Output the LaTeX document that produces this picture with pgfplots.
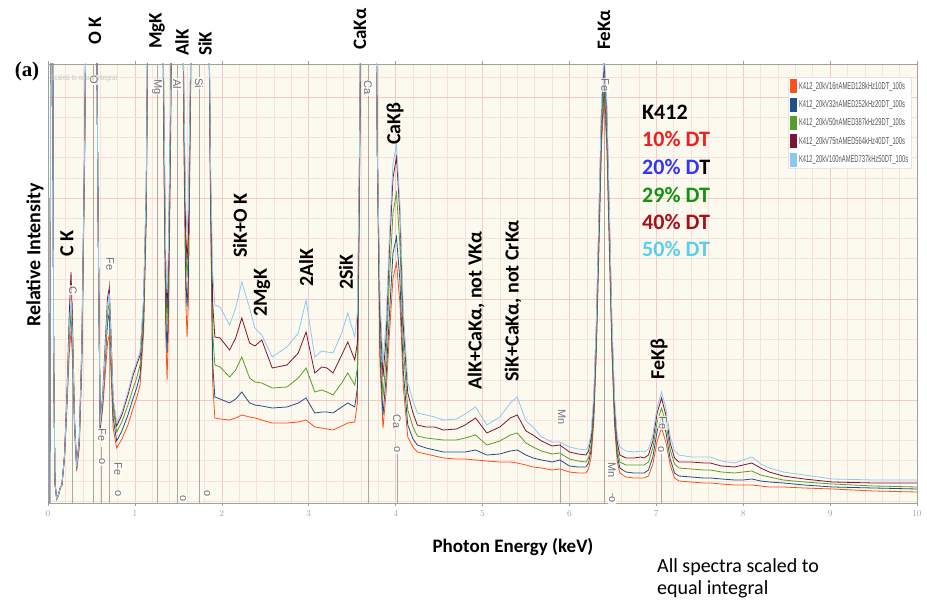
\documentclass[border=0pt]{standalone}
\usepackage{fontspec}
\setmainfont{Carlito}
\newfontfamily\serifa{Liberation Serif}
\newfontfamily\lsans{Liberation Sans}
\usepackage{graphicx}
\usepackage{pgfplots}
\usepackage{pgfplotstable}
\pgfplotsset{compat=1.18}

\definecolor{cOr}{HTML}{FF4F1A}
\definecolor{cBl}{HTML}{1F4E8A}
\definecolor{cGr}{HTML}{5A9C2A}
\definecolor{cDr}{HTML}{7A1535}
\definecolor{cLb}{HTML}{8CC8F2}
\definecolor{bgcream}{HTML}{FCFAEE}
\definecolor{gridpink}{HTML}{F8E0DC}
\definecolor{gridpinkmaj}{HTML}{F3CACA}
\definecolor{axgray}{HTML}{A0A0A0}
\definecolor{mkgray}{HTML}{A8A8A8}
\definecolor{mktext}{HTML}{707070}
\definecolor{legbd}{HTML}{E4E4E4}
\definecolor{legtext}{HTML}{555555}
\definecolor{tRed}{HTML}{F01E1E}
\definecolor{tBlue}{HTML}{3535F5}
\definecolor{tGreen}{HTML}{129112}
\definecolor{tDred}{HTML}{A80F18}
\definecolor{tCyan}{HTML}{58CFEF}

\newcommand\lab{\fontsize{20}{22}\selectfont\bfseries}
\newcommand\toplab{\fontsize{19}{21}\selectfont\bfseries}
\newcommand\mk{\fontsize{11}{11}\selectfont\lsans\color{mktext}}
\newcommand\blk{\fontsize{22}{24}\selectfont\bfseries}

\pgfplotstableread{
x     or   bl   gr   dr   lb
0.000 0    0    0    0    0
0.020 0    0    0    0    0
0.035 600  600  600  600  600
0.050 600  600  600  600  600
0.065 150  150  150  150  150
0.080 20   20   20   20   20
0.100 4    4    4    4    4
0.120 8    8    8    8    8
0.140 15   15   15   15   15
0.160 18   18   18   18   18
0.190 45   46   47   48   47
0.220 100  105  108  115  110
0.245 150  165  170  190  175
0.265 172  190  196  231  203
0.285 140  150  155  170  160
0.305 75   80   82   85   82
0.330 32   35   36   37   36
0.360 55   60   62   65   63
0.390 140  150  155  160  158
0.420 330  340  345  350  348
0.450 600  600  600  600  600
0.550 600  600  600  600  600
0.575 300  300  300  300  300
0.600 72   75   78   80   78
0.630 95   100  103  108  106
0.660 130  145  150  162  155
0.685 160  180  190  205  198
0.705 168  190  200  215  210
0.725 130  150  158  170  165
0.750 75   85   95   102  104
0.790 55   62   71   77   80
0.850 64   72   81   88   91
0.920 78   88   98   108  111
0.980 95   105  115  128  131
1.020 105  115  125  138  141
1.060 118  128  138  148  151
1.100 170  180  190  200  204
1.130 280  290  300  310  315
1.160 600  600  600  600  600
1.310 600  600  600  600  600
1.335 330  350  370  380  390
1.355 170  190  215  230  245
1.370 123  150  180  195  210
1.385 170  195  220  235  250
1.410 350  370  380  390  400
1.430 600  600  600  600  600
1.540 600  600  600  600  600
1.565 350  370  380  390  400
1.585 205  230  255  270  295
1.600 166  196  226  243  270
1.615 200  225  252  268  292
1.640 400  410  420  430  435
1.660 600  600  600  600  600
1.840 600  600  600  600  600
1.870 300  310  320  330  340
1.895 120  140  170  200  230
1.920 85   106  138  166  198
1.980 84   104  136  165  196
2.090 83   100  126  153  178
2.160 85   104  133  165  195
2.230 88   111  146  185  221
2.320 86   100  125  160  195
2.380 85   98   121  157  175
2.460 83   97   120  163  168
2.580 80   95   115  135  146
2.750 80   96   116  138  156
2.880 81   100  125  150  170
2.970 83   105  135  171  203
3.070 76   90   111  130  146
3.150 75   91   113  136  152
3.210 74   91   111  135  151
3.280 73   90   108  130  150
3.380 77   96   120  148  170
3.450 80   100  130  161  190
3.530 81   96   118  143  166
3.560 100  115  135  160  190
3.585 320  330  340  350  360
3.610 600  600  600  600  600
3.765 600  600  600  600  600
3.790 350  350  350  350  350
3.820 140  150  170  190  205
3.855 75   88   106  126  141
3.890 110  125  145  165  180
3.930 170  190  225  255  270
3.970 225  250  290  325  340
4.010 240  266  310  346  358
4.050 200  222  258  288  300
4.090 115  130  155  175  190
4.140 66   78   93   110  120
4.200 56   64   76   90   102
4.250 51   58   67   78   90
4.350 49   55   65   76   88
4.450 47   53   64   76   86
4.550 45   51   63   73   83
4.700 44   51   63   74   84
4.800 44   51   65   78   89
4.920 43   53   68   85   96
5.050 42   48   58   70   78
5.200 41   49   62   76   86
5.320 41   52   68   85   100
5.400 40   53   70   88   106
5.500 38   48   60   72   82
5.580 36   45   56   68   76
5.680 35   43   52   62   66
5.800 33   41   49   57   61
5.890 34   43   50   58   61
6.000 31   37   44   51   56
6.100 30   36   42   49   54
6.190 30   36   41   48   53
6.220 34   40   45   52   57
6.250 46   53   58   65   70
6.280 80   87   92   100  107
6.310 151  158  165  175  181
6.340 255  265  273  285  293
6.370 359  370  380  394  403
6.400 403  415  425  440  450
6.430 358  369  379  393  402
6.460 253  263  272  284  292
6.490 149  156  163  173  180
6.520 77   83   89   97   104
6.550 42   48   54   61   67
6.580 30   35   41   48   56
6.650 26   31   38   45   52
6.740 25   30   38   45   51
6.820 25   30   38   46   52
6.860 25   30   38   45   51
6.910 27   33   41   48   54
6.960 39   46   55   62   68
7.010 62   72   81   90   96
7.060 75   86   95   105  111
7.110 61   71   80   88   95
7.160 38   44   53   60   67
7.210 25   30   39   45   52
7.260 22   27   35   41   48
7.400 21   26   34   41   46
7.550 20   25   33   40   46
7.620 20   25   33   40   46
7.750 19   24   31   37   42
7.900 18   23   30   36   40
8.000 18   23   31   38   43
8.100 18   24   32   40   46
8.200 17   22   28   35   39
8.300 16   21   26   31   35
8.460 16   20   23   27   31
8.700 15   18   21   24   28
9.030 14   16   19   21   24
9.500 12   15   17   20   23
10.00 11   14   16   20   23
}\spec

\begin{document}
\begin{tikzpicture}[x=1pt,y=1pt]
\path[use as bounding box, fill=white] (0,0) rectangle (927,604);
\begin{axis}[
  at={(48pt,101pt)}, anchor=south west,
  width=869pt, height=439pt, scale only axis,
  xmin=0, xmax=10, ymin=0, ymax=439,
  axis background/.style={fill=bgcream},
  axis line style={draw=axgray, line width=0.9pt},
  xtick={0,1,...,10},
  minor xtick={0.2,0.4,...,9.9},
  ytick={103,204,305,406}, yticklabels={},
  minor ytick={2,22.2,42.4,62.6,82.8,123.2,143.4,163.6,183.8,224.2,244.4,264.6,284.8,325.2,345.4,365.6,385.8,426.2},
  grid=both,
  major grid style={draw=gridpinkmaj, line width=0.6pt},
  minor grid style={draw=gridpink, line width=0.5pt},
  ytick style={draw=none},
  xtick style={draw=axgray, line width=0.6pt},
  tick align=outside, major tick length=3pt, minor tick length=0pt,
  xticklabel style={font=\fontsize{9}{9}\selectfont\lsans, text=axgray, yshift=-1pt},
  legend style={at={(0.8516,0.970)}, anchor=north west, draw=legbd, fill=white,
    font=\fontsize{10}{10}\selectfont\lsans, text=legtext,
    inner xsep=2pt, inner ysep=2pt, row sep=4.5pt,
    nodes={inner sep=0.5pt},
    /tikz/every odd column/.append style={column sep=1.5pt}},
  legend cell align=left,
  legend image code/.code={\fill[#1] (0pt,-6.5pt) rectangle (6pt,6.5pt);},
]
% element marker lines
\addplot[mkgray, line width=0.9pt, forget plot] coordinates {(0.276,0) (0.276,200)};
\addplot[mkgray, line width=0.9pt, forget plot] coordinates {(0.525,0) (0.525,439)};
\addplot[mkgray, line width=0.9pt, forget plot] coordinates {(0.615,0) (0.615,56)};
\addplot[mkgray, line width=0.9pt, forget plot] coordinates {(0.705,0) (0.705,222)};
\addplot[mkgray, line width=0.9pt, forget plot] coordinates {(1.254,0) (1.254,439)};
\addplot[mkgray, line width=0.9pt, forget plot] coordinates {(1.487,0) (1.487,439)};
\addplot[mkgray, line width=0.9pt, forget plot] coordinates {(1.740,0) (1.740,439)};
\addplot[mkgray, line width=0.9pt, forget plot] coordinates {(3.690,0) (3.690,439)};
\addplot[mkgray, line width=0.9pt, forget plot] coordinates {(4.016,0) (4.016,50)};
\addplot[mkgray, line width=0.9pt, forget plot] coordinates {(5.899,0) (5.899,60)};
\addplot[mkgray, line width=0.9pt, forget plot] coordinates {(6.403,0) (6.403,439)};
\addplot[mkgray, line width=0.9pt, forget plot] coordinates {(6.490,0) (6.490,10)};
\addplot[mkgray, line width=0.9pt, forget plot] coordinates {(7.058,0) (7.058,50)};
% spectra
\addplot[cOr, line width=0.8pt] table[x=x, y=or] {\spec};
\addlegendentry{\scalebox{0.58}[1]{K412\_20kV16nAMED128kHz10DT\_100s}}
\addplot[cBl, line width=0.8pt] table[x=x, y=bl] {\spec};
\addlegendentry{\scalebox{0.58}[1]{K412\_20kV32nAMED252kHz20DT\_100s}}
\addplot[cGr, line width=0.8pt] table[x=x, y=gr] {\spec};
\addlegendentry{\scalebox{0.58}[1]{K412\_20kV50nAMED387kHz29DT\_100s}}
\addplot[cDr, line width=0.8pt] table[x=x, y=dr] {\spec};
\addlegendentry{\scalebox{0.58}[1]{K412\_20kV75nAMED564kHz40DT\_100s}}
\addplot[cLb, line width=0.8pt] table[x=x, y=lb] {\spec};
\addlegendentry{\scalebox{0.58}[1]{K412\_20kV100nAMED737kHz50DT\_100s}}
\end{axis}

% marker labels (grey, rotated)
\tikzset{mkl/.style={rotate=-90, font=\mk, fill=white, fill opacity=0.75, text opacity=1, inner sep=0.8pt}}
\node[mkl] at (73,314) {C};
\node[mkl] at (94,524) {O};
\node[mkl] at (110,340) {Fe};
\node[mkl] at (102,169) {Fe};
\node[mkl] at (102,142) {o};
\node[mkl] at (118,135) {Fe};
\node[mkl] at (118,110) {o};
\node[mkl] at (157,517) {Mg};
\node[mkl] at (177,520) {Al};
\node[mkl] at (199,521) {Si};
\node[mkl] at (183,105) {o};
\node[mkl] at (207,110) {o};
\node[mkl] at (368,516) {Ca};
\node[mkl] at (397,182) {Ca};
\node[mkl] at (397,154) {o};
\node[mkl] at (562,187) {Mn};
\node[mkl] at (605,519) {Fe};
\node[mkl] at (612,134) {Mn};
\node[mkl] at (612,104) {o};
\node[mkl] at (663,181) {Fe};
\node[mkl] at (661,154) {o};

% faint note
\node[anchor=west, font=\fontsize{8}{8}\selectfont\lsans, text=black!22, inner sep=0pt] at (50,526) {\scalebox{0.8}[1]{Scaled to equal integral}};

% top labels
\node[rotate=90, anchor=west, font=\toplab, inner sep=0pt] at (95,559) {O K};
\node[rotate=90, anchor=west, font=\toplab, inner sep=0pt] at (157,555) {MgK};
\node[rotate=90, anchor=west, font=\toplab, inner sep=0pt] at (182,548) {AlK};
\node[rotate=90, anchor=west, font=\toplab, inner sep=0pt] at (205,548) {SiK};
\node[rotate=90, anchor=west, font=\toplab, inner sep=0pt] at (360,554) {CaKα};
\node[rotate=90, anchor=west, font=\toplab, inner sep=0pt] at (604,554) {FeKα};

% inner labels
\node[rotate=90, anchor=west, font=\lab, inner sep=0pt] at (67,347) {C K};
\node[rotate=90, anchor=west, font=\lab, inner sep=0pt] at (240,346) {SiK+O K};
\node[rotate=90, anchor=west, font=\lab, inner sep=0pt] at (262,287) {2MgK};
\node[rotate=90, anchor=west, font=\lab, inner sep=0pt] at (306,317) {2AlK};
\node[rotate=90, anchor=west, font=\lab, inner sep=0pt] at (346,314) {2SiK};
\node[rotate=90, anchor=west, font=\lab, inner sep=0pt] at (395,459) {CaKβ};
\node[rotate=90, anchor=west, font=\lab, inner sep=0pt] at (476,214) {AlK+CaKα, not VKα};
\node[rotate=90, anchor=west, font=\lab, inner sep=0pt] at (513,222) {SiK+CaKα, not CrKα};
\node[rotate=90, anchor=west, font=\lab, inner sep=0pt] at (659,224) {FeKβ};

% K412 block
\node[anchor=base west, font=\blk, inner sep=0pt] at (642,484) {K412};
\node[anchor=base west, font=\blk, text=tRed, inner sep=0pt] at (642,457) {10\% DT};
\node[anchor=base west, font=\blk, inner sep=0pt] at (642,429) {\textcolor{tBlue}{20\% D}T};
\node[anchor=base west, font=\blk, text=tGreen, inner sep=0pt] at (642,401) {29\% DT};
\node[anchor=base west, font=\blk, text=tDred, inner sep=0pt] at (642,374) {40\% DT};
\node[anchor=base west, font=\blk, text=tCyan, inner sep=0pt] at (642,347) {50\% DT};

% axis titles
\node[rotate=90, font=\fontsize{20}{22}\selectfont\bfseries, inner sep=0pt] at (35,349) {Relative Intensity};
\node[font=\fontsize{19}{21}\selectfont\bfseries, inner sep=0pt] at (513,57) {Photon Energy (keV)};
\node[anchor=base west, font=\fontsize{20}{22}\selectfont, inner sep=0pt] at (657,31) {All spectra scaled to};
\node[anchor=base west, font=\fontsize{20}{22}\selectfont, inner sep=0pt] at (657,9) {equal integral};
\node[font=\fontsize{21}{23}\selectfont\serifa\bfseries, inner sep=0pt] at (27,533) {(a)};
\end{tikzpicture}
\end{document}
